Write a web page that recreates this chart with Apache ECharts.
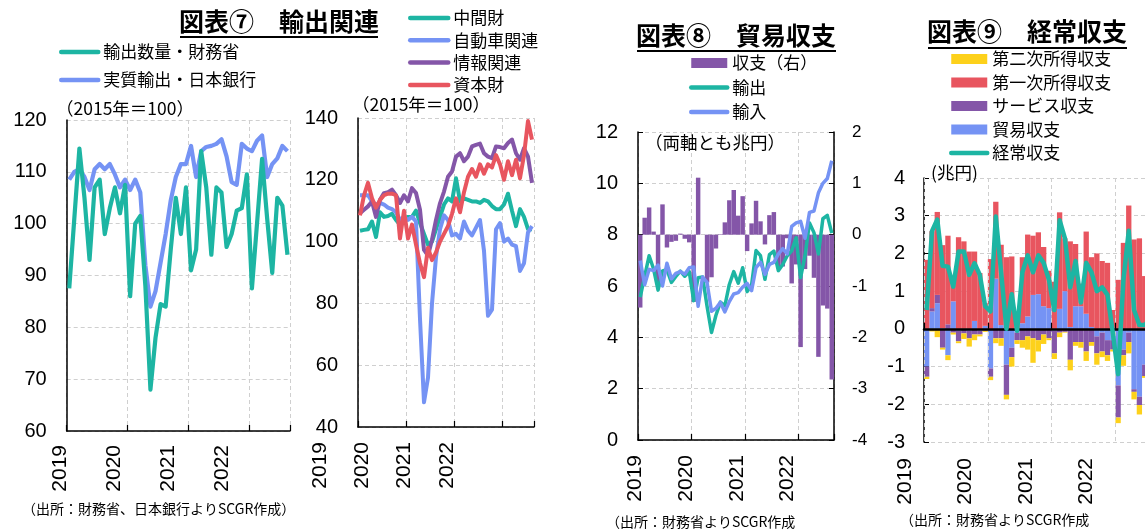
<!DOCTYPE html>
<html>
<head>
<meta charset="utf-8">
<script src="https://cdn.jsdelivr.net/npm/echarts@6.0.0/dist/echarts.min.js"></script>
<style>
  html, body { margin: 0; padding: 0; background: #fff; }
  #chart { width: 1145px; height: 531px; }
</style>
</head>
<body>
<div id="chart"></div>
<script>
// ---------- data ----------
const yearLabels = ['2019', '2020', '2021', '2022'];

// monthly categories, Jan 2019 - Aug 2022
const months = [];
for (const y of [2019, 2020, 2021, 2022]) {
  for (let m = 1; m <= 12; m++) {
    if (y === 2022 && m > 8) break;
    months.push(y + '/' + m);
  }
}

// 図表⑦ left (2015 = 100)
const exportVolumeMOF = [87.5, 101, 114.5, 105, 93, 107, 108.5, 98, 103, 107, 102, 107.5,
  86, 100, 101.5, 88, 68, 78, 84.5, 84, 95, 105, 98, 107,
  91, 95, 114, 107, 94, 107, 106, 95.5, 98, 102.5, 103, 109.5,
  87.5, 100, 112.5, 101, 90.5, 105, 103.5, 94];
const realExportsBOJ = [108.5, 110, 110.5, 109, 106.5, 110.5, 111.5, 110.5, 111.5, 109.5, 107, 108.5,
  106.5, 108.5, 106, 92, 84, 87, 92.5, 98, 104.5, 109, 111.5, 111.5,
  115, 109, 114, 114.8, 115, 115.4, 116.3, 113, 108, 107.5, 115.4, 114.5,
  114, 116, 117, 109, 111.5, 112.6, 115, 114];

// 図表⑦ right (2015 = 100)
const intermediateGoods = [103.5, 103.8, 104, 106.5, 101.5, 109.5, 108, 108.3, 109, 107, 105.5, 107.5,
  108, 108, 110, 106, 102.5, 99, 100, 104, 108, 112, 114, 113,
  120.5, 113, 114, 113.5, 113, 113, 112.5, 113.5, 113, 111.5, 110.5, 110.5,
  112, 115.5, 110, 105, 110.5, 108, 104, 104];
const autoRelated = [115, 115, 115, 113, 112, 112.5, 112, 111, 110.5, 109.5, 107, 108,
  107, 108, 106.5, 75, 48, 56, 80, 95, 104, 108.5, 107, 102,
  102.5, 101, 106.5, 103.5, 102, 104.5, 107, 97, 76, 78, 104, 106,
  100, 101, 99, 98.5, 90.5, 93, 103, 105];
const itRelated = [109.2, 110.3, 111.4, 113, 108, 113.5, 115.7, 116, 116.8, 115, 112.5, 115,
  113, 117.3, 115.7, 110.3, 97.3, 95.5, 100.6, 107, 112.4, 116.2, 121, 122.7,
  127.5, 128.6, 126, 127.5, 130.8, 131.3, 131.7, 128.6, 127.5, 127, 130.8, 130.6,
  130.2, 131.9, 133, 128.6, 126.5, 130.2, 127.5, 119];
const capitalGoods = [108.5, 115, 119, 114, 111, 113.5, 115, 115.5, 115.5, 115, 101, 110,
  101, 105.5, 99, 93, 88.5, 98, 94, 96.5, 100, 102.5, 105, 109,
  114, 109.5, 116, 121, 123.5, 121, 125, 122, 125, 124, 128, 125,
  120, 126, 121.5, 126.5, 120.5, 128, 139, 133];

// 図表⑧ (trillion yen)
const exportsValue = [5.57, 6.38, 7.18, 6.66, 5.84, 6.59, 6.64, 6.14, 6.37, 6.58, 6.38, 6.56,
  5.43, 6.32, 6.35, 5.21, 4.19, 4.86, 5.37, 5.23, 6.06, 6.56, 6.11, 6.71,
  5.78, 6.04, 7.38, 7.18, 6.26, 7.22, 7.36, 6.60, 6.84, 7.18, 7.37, 7.88,
  6.33, 7.19, 8.46, 8.08, 7.25, 8.62, 8.75, 8.06];
const importsValue = [6.99, 6.05, 6.65, 6.60, 6.81, 6.00, 6.89, 6.28, 6.49, 6.56, 6.46, 6.71,
  6.74, 5.21, 6.35, 6.14, 5.02, 5.13, 5.36, 4.99, 5.39, 5.69, 5.74, 5.96,
  6.10, 5.82, 6.72, 6.92, 6.45, 6.84, 6.92, 7.24, 7.46, 7.25, 8.32, 8.46,
  8.52, 7.86, 8.87, 8.92, 9.63, 10.00, 10.19, 10.88];
const tradeBalance = [-1.42, 0.33, 0.53, 0.06, -0.97, 0.59, -0.25, -0.14, -0.12, 0.02, -0.08, -0.15,
  -1.31, 1.11, 0.00, -0.93, -0.83, -0.27, 0.01, 0.24, 0.67, 0.87, 0.37, 0.75,
  -0.32, 0.22, 0.66, 0.26, -0.19, 0.38, 0.44, -0.64, -0.62, -0.07, -0.95, -0.58,
  -2.19, -0.67, -0.41, -0.84, -2.38, -1.38, -1.44, -2.82];

// 図表⑨ (trillion yen)
const goodsBalance = [-1.0, 0.46, 0.68, 0.02, -0.7, 0.73, -0.05, 0.0, -0.05, 0.21, -0.05, 0.08,
  -1.05, 1.33, 0.1, -0.95, -0.5, -0.1, 0.15, 0.33, 0.9, 0.92, 0.6, 0.55,
  -0.05, 0.53, 1.0, 0.05, 0.6, 0.6, 0.4, 0.05, -0.2, -0.1, -0.3, -0.3,
  -1.5, -0.55, -0.1, -1.6, -1.8, -0.95, -1.3, -2.4];
const servicesBalance = [-0.27, 0.09, 0.22, -0.5, 0.12, -0.1, -0.28, -0.12, -0.2, -0.15, -0.1, -0.05,
  -0.22, -0.25, -0.25, -0.8, -0.25, -0.2, -0.3, -0.2, -0.25, -0.3, -0.15, -0.25,
  -0.6, -0.1, -0.08, -0.82, -0.35, -0.35, -0.6, -0.35, -0.45, -0.5, -0.4, -0.25,
  -0.85, -0.15, -0.25, -0.07, -0.22, -0.3, -0.3, -0.6];
const primaryIncome = [1.83, 2.04, 2.2, 2.2, 2.35, 0.5, 2.43, 2.32, 2.05, 1.84, 1.48, 0.6,
  1.85, 2.04, 2.13, 1.9, 1.92, 0.35, 1.75, 2.17, 1.57, 1.64, 1.57, 0.99,
  1.25, 2.56, 1.4, 2.27, 1.65, 0.6, 2.18, 1.85, 2.0, 1.8, 1.75, 0.5,
  1.3, 2.28, 3.27, 2.37, 2.4, 1.4, 1.95, 2.55];
const secondaryIncome = [-0.06, -0.07, -0.22, -0.05, -0.13, -0.05, -0.05, -0.15, -0.22, -0.15, -0.05, -0.03,
  -0.09, -0.13, -0.2, -0.12, -0.25, -0.1, -0.2, -0.35, -0.65, -0.3, -0.25, -0.05,
  -0.15, -0.12, -0.02, -0.28, -0.1, -0.15, -0.25, -0.1, -0.3, -0.15, -0.15, -0.05,
  -0.15, -0.28, -0.3, -0.2, -0.25, -0.05, -0.1, -0.1];
const currentAccount = [0.5, 2.59, 2.9, 1.67, 1.65, 1.12, 2.05, 2.05, 1.43, 1.74, 1.43, 0.6,
  0.46, 2.98, 1.5, 0.0, 0.92, -0.05, 1.5, 1.95, 1.5, 1.95, 1.75, 1.3,
  0.5, 2.88, 2.4, 1.1, 1.8, 0.7, 1.75, 1.5, 1.0, 1.1, 0.9, -0.1,
  -1.2, 1.3, 2.6, 0.5, 0.1, 0.1, 0.25, -0.55];

// ---------- styling ----------
const TEAL = '#1db5a3', BLUE = '#7593f4', PURPLE = '#8456a8', RED = '#e8555f', YELLOW = '#fdd11b';
const CJK = '"Noto Sans CJK JP", sans-serif';
const NUM = '"Liberation Sans", Arial, sans-serif';
const GRIDLINE = { show: true, lineStyle: { color: '#cfcfcf', type: [4, 3], width: 1 } };
const yearEvery = (i) => i % 12 === 0;

function monthAxis(gridIndex, onZero) {
  return {
    type: 'category', gridIndex, data: months, boundaryGap: true,
    z: onZero ? 3 : 0,
    axisLine: { show: true, onZero, lineStyle: { color: '#000', width: onZero ? 2.5 : 1.5 } },
    axisTick: { show: true, inside: true, length: 6, interval: yearEvery, lineStyle: { color: '#000', width: 1.2 } },
    axisLabel: { show: false },
    splitLine: Object.assign({ interval: yearEvery }, GRIDLINE)
  };
}
function yearLabelAxis(gridIndex, margin) {
  return {
    type: 'value', gridIndex, min: 0, max: 36, interval: 12,
    axisLine: { show: false }, axisTick: { show: false }, splitLine: { show: false },
    axisLabel: { rotate: 90, margin, fontSize: 21, color: '#000', fontFamily: NUM,
      formatter: (v) => yearLabels[v / 12] }
  };
}
function valueAxis(gridIndex, min, max, interval, opts) {
  return Object.assign({
    type: 'value', gridIndex, min, max, interval,
    axisLine: { show: true, lineStyle: { color: '#000', width: 1.5 } },
    axisTick: { show: false },
    axisLabel: { fontSize: 20, margin: 20, color: '#000', fontFamily: NUM },
    splitLine: GRIDLINE
  }, opts || {});
}
function line(name, data, color, width, xi, yi) {
  return {
    type: 'line', name, data, xAxisIndex: xi, yAxisIndex: yi, z: 4,
    symbol: 'none', showSymbol: false,
    lineStyle: { color, width, join: 'round' }, itemStyle: { color }
  };
}
function bar(name, data, color, xi, yi, stack) {
  return {
    type: 'bar', name, data, xAxisIndex: xi, yAxisIndex: yi, stack,
    barCategoryGap: '0%', itemStyle: { color }
  };
}
// legend entry for a line series: plain stroke, no marker
const lineKey = (name) => ({ name, itemStyle: { opacity: 0 }, lineStyle: { width: 4.5, cap: 'round' } });
const barKey = (name) => ({ name, icon: 'rect' });

const legendText = { fontSize: 17, color: '#000', fontFamily: CJK, lineHeight: 20 };
const titleText = { fontSize: 25, fontWeight: 'bold', color: '#000', fontFamily: CJK };
const noteText = { fontSize: 17.5, fontWeight: 'normal', color: '#000', fontFamily: CJK };
const srcText = { fontSize: 14, fontWeight: 'normal', color: '#000', fontFamily: CJK };

const option = {
  animation: false,
  backgroundColor: '#fff',
  textStyle: { fontFamily: CJK },
  title: [
    { text: '図表⑦　輸出関連', left: 179, top: 9, padding: 0, textStyle: titleText },
    { text: '図表⑧　貿易収支', left: 636, top: 23, padding: 0, textStyle: titleText },
    { text: '図表⑨　経常収支', left: 927, top: 19, padding: 0, textStyle: titleText },
    { text: '（2015年＝100）', left: 56, top: 100, padding: 0, textStyle: noteText },
    { text: '（2015年＝100）', left: 352, top: 96, padding: 0, textStyle: noteText },
    { text: '（両軸とも兆円）', left: 645, top: 134, padding: 0, textStyle: noteText },
    { text: '(兆円)', left: 931, top: 164, padding: 0, textStyle: noteText },
    { text: '（出所：財務省、日本銀行よりSCGR作成）', left: 22, top: 502, padding: 0, textStyle: srcText },
    { text: '（出所：財務省よりSCGR作成', left: 606, top: 515, padding: 0, textStyle: srcText },
    { text: '（出所：財務省よりSCGR作成', left: 900, top: 513, padding: 0, textStyle: srcText }
  ],
  graphic: [
    { type: 'line', shape: { x1: 180, y1: 37, x2: 378, y2: 37 }, style: { stroke: '#000', lineWidth: 2 } },
    { type: 'line', shape: { x1: 637, y1: 51, x2: 836, y2: 51 }, style: { stroke: '#000', lineWidth: 2 } },
    { type: 'line', shape: { x1: 928, y1: 48, x2: 1127, y2: 48 }, style: { stroke: '#000', lineWidth: 2 } }
  ],
  legend: [
    { data: [lineKey('輸出数量・財務省'), lineKey('実質輸出・日本銀行')], orient: 'vertical', left: 59, top: 42,
      itemWidth: 37, itemHeight: 10, itemGap: 8, padding: 0, textStyle: legendText },
    { data: [lineKey('中間財'), lineKey('自動車関連'), lineKey('情報関連'), lineKey('資本財')],
      orient: 'vertical', left: 408, top: 8,
      itemWidth: 38, itemHeight: 10, itemGap: 2.3, padding: 0, textStyle: legendText },
    { data: [barKey('収支（右）'), lineKey('輸出'), lineKey('輸入')], orient: 'vertical', left: 689, top: 53,
      itemWidth: 36, itemHeight: 10, itemGap: 4.5, padding: 0, textStyle: legendText },
    { data: [barKey('第二次所得収支'), barKey('第一次所得収支'), barKey('サービス収支'), barKey('貿易収支'),
             lineKey('経常収支')],
      orient: 'vertical', left: 949, top: 49,
      itemWidth: 36, itemHeight: 10, itemGap: 3.5, padding: 0, textStyle: legendText }
  ],
  grid: [
    { left: 66.7, top: 120, width: 223.3, height: 311, containLabel: false, outerBoundsMode: 'none' },
    { left: 358, top: 118, width: 176, height: 309, containLabel: false, outerBoundsMode: 'none' },
    { left: 638, top: 132, width: 196, height: 308, containLabel: false, outerBoundsMode: 'none' },
    { left: 924, top: 178, width: 234, height: 264, containLabel: false, outerBoundsMode: 'none' },
    // year label strips under each panel
    { left: 60, top: 430, width: 162, height: 1, containLabel: false, outerBoundsMode: 'none' },
    { left: 320, top: 426, width: 127, height: 1, containLabel: false, outerBoundsMode: 'none' },
    { left: 635.5, top: 439, width: 152, height: 1, containLabel: false, outerBoundsMode: 'none' },
    { left: 905.5, top: 441, width: 180.5, height: 1, containLabel: false, outerBoundsMode: 'none' }
  ],
  xAxis: [
    monthAxis(0, false), monthAxis(1, false), monthAxis(2, false), monthAxis(3, true),
    yearLabelAxis(4, 14), yearLabelAxis(5, 15), yearLabelAxis(6, 15), yearLabelAxis(7, 16)
  ],
  yAxis: [
    valueAxis(0, 60, 120, 10),
    valueAxis(1, 40, 140, 20),
    valueAxis(2, 0, 12, 2, { axisTick: { show: true, inside: true, length: 5, lineStyle: { color: '#000' } } }),
    valueAxis(2, -4, 2, 1, {
      position: 'right',
      axisTick: { show: true, inside: true, length: 5, lineStyle: { color: '#000' } },
      axisLabel: { fontSize: 17, margin: 18, color: '#000', fontFamily: NUM },
      splitLine: { show: false }
    }),
    valueAxis(3, -3, 4, 1, {
      axisTick: { show: true, inside: true, length: 5, lineStyle: { color: '#000' } },
      axisLabel: { fontSize: 20, margin: 19, color: '#000', fontFamily: NUM }
    }),
    { type: 'value', gridIndex: 4, show: false, min: 0, max: 1 },
    { type: 'value', gridIndex: 5, show: false, min: 0, max: 1 },
    { type: 'value', gridIndex: 6, show: false, min: 0, max: 1 },
    { type: 'value', gridIndex: 7, show: false, min: 0, max: 1 }
  ],
  series: [
    // 図表⑦ left
    line('実質輸出・日本銀行', realExportsBOJ, BLUE, 4.2, 0, 0),
    line('輸出数量・財務省', exportVolumeMOF, TEAL, 4.2, 0, 0),
    // 図表⑦ right
    line('中間財', intermediateGoods, TEAL, 4, 1, 1),
    line('自動車関連', autoRelated, BLUE, 4, 1, 1),
    line('情報関連', itRelated, PURPLE, 4, 1, 1),
    line('資本財', capitalGoods, RED, 4, 1, 1),
    // 図表⑧
    bar('収支（右）', tradeBalance, PURPLE, 2, 3),
    line('輸出', exportsValue, TEAL, 3.5, 2, 2),
    line('輸入', importsValue, BLUE, 3.5, 2, 2),
    // 図表⑨ (stacked by sign)
    bar('貿易収支', goodsBalance, BLUE, 3, 4, 'ca'),
    bar('サービス収支', servicesBalance, PURPLE, 3, 4, 'ca'),
    bar('第一次所得収支', primaryIncome, RED, 3, 4, 'ca'),
    bar('第二次所得収支', secondaryIncome, YELLOW, 3, 4, 'ca'),
    line('経常収支', currentAccount, TEAL, 4.5, 3, 4)
  ]
};

const chart = echarts.init(document.getElementById('chart'), null, { renderer: 'canvas' });
chart.setOption(option);
</script>
</body>
</html>
